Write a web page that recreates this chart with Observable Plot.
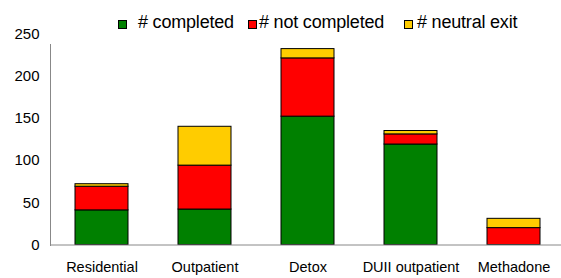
<!DOCTYPE html>
<html>
<head>
<meta charset="utf-8">
<script src="https://cdn.jsdelivr.net/npm/d3@7"></script>
<script src="https://cdn.jsdelivr.net/npm/@observablehq/plot@0.6"></script>
<style>
  html, body { margin: 0; padding: 0; background: #fff; }
  body { width: 561px; height: 278px; overflow: hidden; font-family: "Liberation Sans", Arial, sans-serif; }
  #legend { position: relative; height: 28px; width: 561px; }
  .sw { position: absolute; top: 20px; width: 7px; height: 7px; border: 1px solid #000; }
  .lt { position: absolute; top: 13px; font-size: 18px; line-height: 18px; color: #000; white-space: nowrap; letter-spacing: -0.2px; }
</style>
</head>
<body>
<div id="legend"></div>
<div id="chart"></div>
<script>
const categories = ["Residential", "Outpatient", "Detox", "DUII outpatient", "Methadone"];
const completed = [41, 42, 152, 119, 0];
const notCompleted = [28, 52, 69, 12, 20];
const neutralExit = [3, 46, 11, 4, 11];
const seriesNames = ["# completed", "# not completed", "# neutral exit"];
const seriesColors = ["#008000", "#ff0000", "#ffcc00"];
const yTicks = [0, 50, 100, 150, 200, 250];

const seriesValues = [completed, notCompleted, neutralExit];
const rows = [];
categories.forEach((c, i) => {
  seriesNames.forEach((s, j) => rows.push({category: c, series: s, value: seriesValues[j][i]}));
});

// Legend (HTML, above the SVG)
const legend = document.getElementById("legend");
const legendPos = [[118, 138], [248, 259], [404, 417]];
seriesNames.forEach((s, j) => {
  const sw = document.createElement("div");
  sw.className = "sw";
  sw.style.left = legendPos[j][0] + "px";
  sw.style.background = seriesColors[j];
  legend.appendChild(sw);
  const t = document.createElement("div");
  t.className = "lt";
  t.style.left = legendPos[j][1] + "px";
  t.textContent = s;
  legend.appendChild(t);
});

const chart = Plot.plot({
  width: 561,
  height: 250,
  marginLeft: 50,
  marginRight: 0,
  marginTop: 16,
  marginBottom: 33,
  style: {fontFamily: "'Liberation Sans', Arial, sans-serif", fontSize: "14.5px", color: "#000", background: "#fff", overflow: "visible"},
  x: {domain: categories, range: [50, 565], padding: 0, label: null},
  y: {domain: [0, 250], range: [216.5, 5.4], label: null},
  color: {domain: seriesNames, range: seriesColors},
  marks: [
    Plot.barY(rows, Plot.stackY({
      x: "category", y: "value", fill: "series",
      stroke: "#000", strokeWidth: 1, insetLeft: 25, insetRight: 25
    })),
    Plot.frame({anchor: "left", stroke: "#888"}),
    Plot.ruleY([0], {stroke: "#888"}),
    Plot.axisY(yTicks, {tickSize: 0, tickPadding: 11, fontSize: 15, label: null}),
    Plot.axisX({tickSize: 0, tickPadding: 16, label: null})
  ]
});
document.getElementById("chart").appendChild(chart);
</script>
</body>
</html>
